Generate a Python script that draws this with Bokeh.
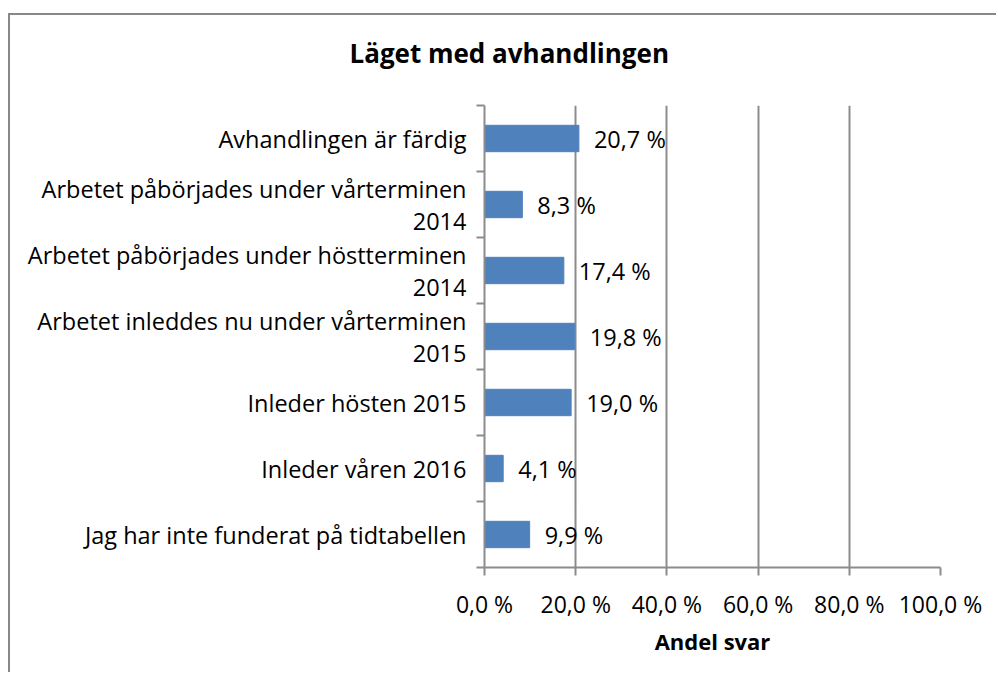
from bokeh.plotting import figure
from bokeh.models import FixedTicker, Range1d, Title, ColumnDataSource
from bokeh.core.properties import value
from bokeh.embed import file_html
from bokeh.resources import INLINE

# ---- data (top to bottom as shown) ----
categories = [
    "Avhandlingen är färdig",
    "Arbetet påbörjades under vårterminen\n2014",
    "Arbetet påbörjades under höstterminen\n2014",
    "Arbetet inleddes nu under vårterminen\n2015",
    "Inleder hösten 2015",
    "Inleder våren 2016",
    "Jag har inte funderat på tidtabellen",
]
values = [20.7, 8.3, 17.4, 19.8, 19.0, 4.1, 9.9]
x_ticks = [0, 20, 40, 60, 80, 100]
x_tick_labels = ["0,0 %", "20,0 %", "40,0 %", "60,0 %", "80,0 %", "100,0 %"]
title_text = "Läget med avhandlingen"
x_title = "Andel svar"

FONT = "Open Sans"
FS = "23.5px"
GRID = "#8c8c8c"
BAR = "#4f81bd"

n = len(categories)
ypos = [n - 0.5 - i for i in range(n)]
value_labels = [("%.1f" % v).replace(".", ",") + " %" for v in values]

src = ColumnDataSource(dict(y=ypos, v=values, lab=value_labels))

W, H = 988, 672
FL, FT, FW, FH = 476, 105, 456, 462
p = figure(width=W, height=H, output_backend="svg", toolbar_location=None,
           x_range=Range1d(0, 100), y_range=Range1d(0, n),
           min_border_left=FL, min_border_right=W - FL - FW, min_border_top=FT,
           min_border_bottom=H - FT - FH)
# chart border (top and left edges) drawn behind a transparent canvas border
p.styles = {"margin-left": "8px",
            "background": "linear-gradient(#888888, #888888) 0 13px / 100% 2px no-repeat, "
                          "linear-gradient(#888888, #888888) 0 13px / 2px 100% no-repeat"}
p.outline_line_color = None
p.background_fill_color = "white"
p.border_fill_color = None

p.hbar(y="y", right="v", left=0, height=0.4, source=src, color=BAR)
p.text(x="v", y="y", text="lab", source=src, x_offset=15,
       text_baseline="middle", text_align="left",
       text_font=value(FONT), text_font_size=FS, text_color="black")

xa = p.xaxis[0]
xa.ticker = FixedTicker(ticks=x_ticks, minor_ticks=[])
xa.major_label_overrides = {t: l for t, l in zip(x_ticks, x_tick_labels)}
xa.axis_line_color = GRID
xa.axis_line_width = 2
xa.major_tick_line_color = GRID
xa.major_tick_line_width = 2
xa.major_tick_in = 0
xa.major_tick_out = 8
xa.minor_tick_line_color = None
xa.major_label_text_font = FONT
xa.major_label_text_font_size = "23px"
xa.major_label_text_color = "black"
xa.major_label_standoff = 12
xa.axis_label = x_title
xa.axis_label_text_font = FONT
xa.axis_label_text_font_size = "22px"
xa.axis_label_text_font_style = "bold"
xa.axis_label_text_color = "black"
xa.axis_label_standoff = 3

ya = p.yaxis[0]
ya.ticker = FixedTicker(ticks=ypos, minor_ticks=list(range(n + 1)))
ya.major_label_overrides = {y: c for y, c in zip(ypos, categories)}
ya.axis_line_color = GRID
ya.axis_line_width = 2
ya.major_tick_line_color = None
ya.major_tick_in = 0
ya.major_tick_out = 8
ya.minor_tick_line_color = GRID
ya.minor_tick_line_width = 2
ya.minor_tick_in = 0
ya.minor_tick_out = 8
ya.major_label_text_font = FONT
ya.major_label_text_font_size = FS
ya.major_label_text_color = "black"
ya.major_label_text_line_height = 1.0
ya.major_label_standoff = 10

p.xgrid.ticker = FixedTicker(ticks=x_ticks)
p.xgrid.grid_line_color = GRID
p.xgrid.grid_line_width = 2
p.ygrid.grid_line_color = None

p.add_layout(Title(text=title_text, text_font=FONT, text_font_size="26px",
                   text_font_style="bold", text_color="black",
                   align="left", offset=-135, vertical_align="top",
                   standoff=66), "above")

open("out.html", "w").write(file_html(p, INLINE))
